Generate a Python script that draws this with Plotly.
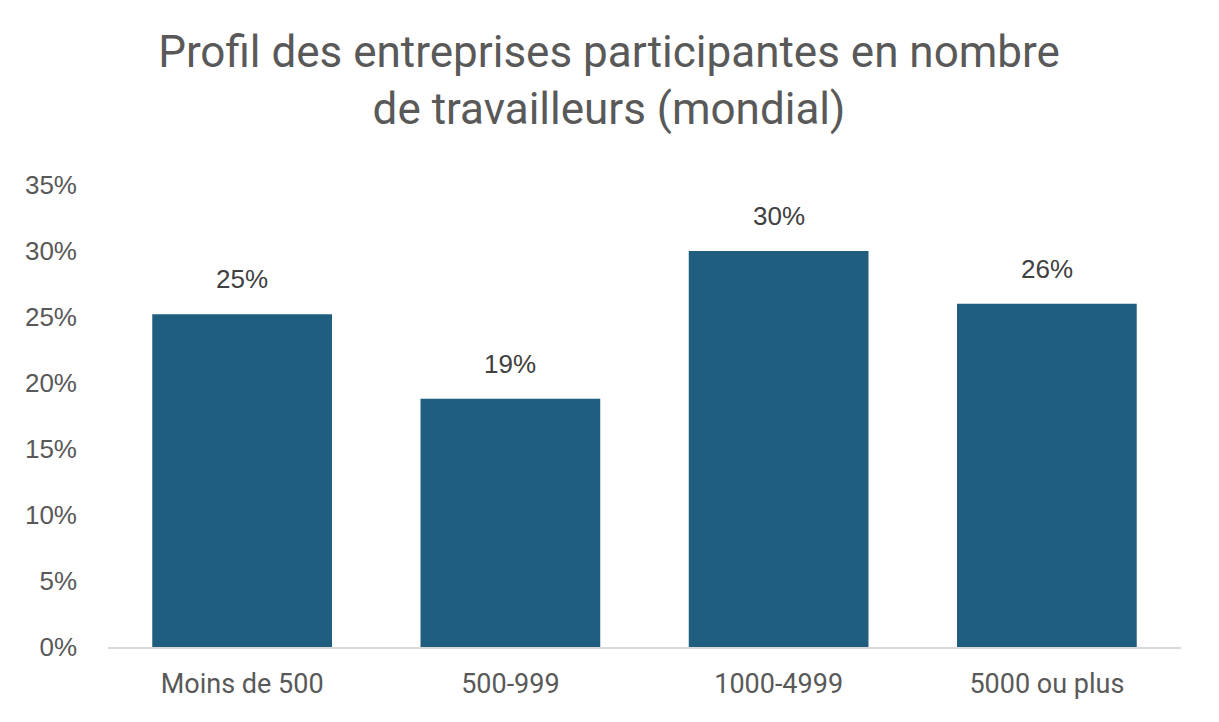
import plotly.graph_objects as go

categories = ["Moins de 500", "500-999", "1000-4999", "5000 ou plus"]
values = [0.252, 0.188, 0.300, 0.260]
labels = ["25%", "19%", "30%", "26%"]
tick_vals = [0, 0.05, 0.10, 0.15, 0.20, 0.25, 0.30, 0.35]
tick_text = ["0%", "5%", "10%", "15%", "20%", "25%", "30%", "35%"]

W, H = 1219, 722
ml, mr, mt, mb = 100, 46, 177, 83

fig = go.Figure(go.Bar(
    x=categories, y=values,
    marker=dict(color="#1f5e7f", line=dict(width=0)),
    hoverinfo="x+y",
))

annotations = [
    dict(x=c, y=v, text=t, showarrow=False, xref="x", yref="y",
         yanchor="bottom", yshift=18,
         font=dict(family="Liberation Sans, Arial", size=26, color="#404040"))
    for c, v, t in zip(categories, values, labels)
]

fig.update_layout(
    width=W, height=H,
    margin=dict(l=ml, r=mr, t=mt, b=mb),
    paper_bgcolor="white", plot_bgcolor="white",
    bargap=0.33,
    showlegend=False,
    title=dict(
        text="Profil des entreprises participantes en nombre<br>de travailleurs (mondial)",
        x=601 / W, xanchor="center", xref="container",
        y=1 - 59 / H, yanchor="middle", yref="container",
        font=dict(family="Roboto, Noto Sans, sans-serif", size=44, color="#595959"),
    ),
    xaxis=dict(
        showgrid=False, showline=True, linecolor="#d9d9d9", linewidth=2,
        ticks="", tickfont=dict(family="Roboto, sans-serif", size=27, color="#595959"),
        ticklabelstandoff=12,
    ),
    yaxis=dict(
        range=[0, 0.35], tickvals=tick_vals, ticktext=tick_text,
        showgrid=False, zeroline=False, showline=False, ticks="",
        tickfont=dict(family="Liberation Sans, Arial", size=26, color="#595959"),
        ticklabelstandoff=30,
    ),
    annotations=annotations,
    shapes=[dict(type="line", xref="paper", yref="paper",
                 x0=(-5 - ml) / (W - ml - mr), x1=(-5 - ml) / (W - ml - mr),
                 y0=-mb / (H - mt - mb), y1=(H - mb) / (H - mt - mb) + 0.5,
                 line=dict(color="#d9d9d9", width=2))],
)

fig.write_html("out.html")
